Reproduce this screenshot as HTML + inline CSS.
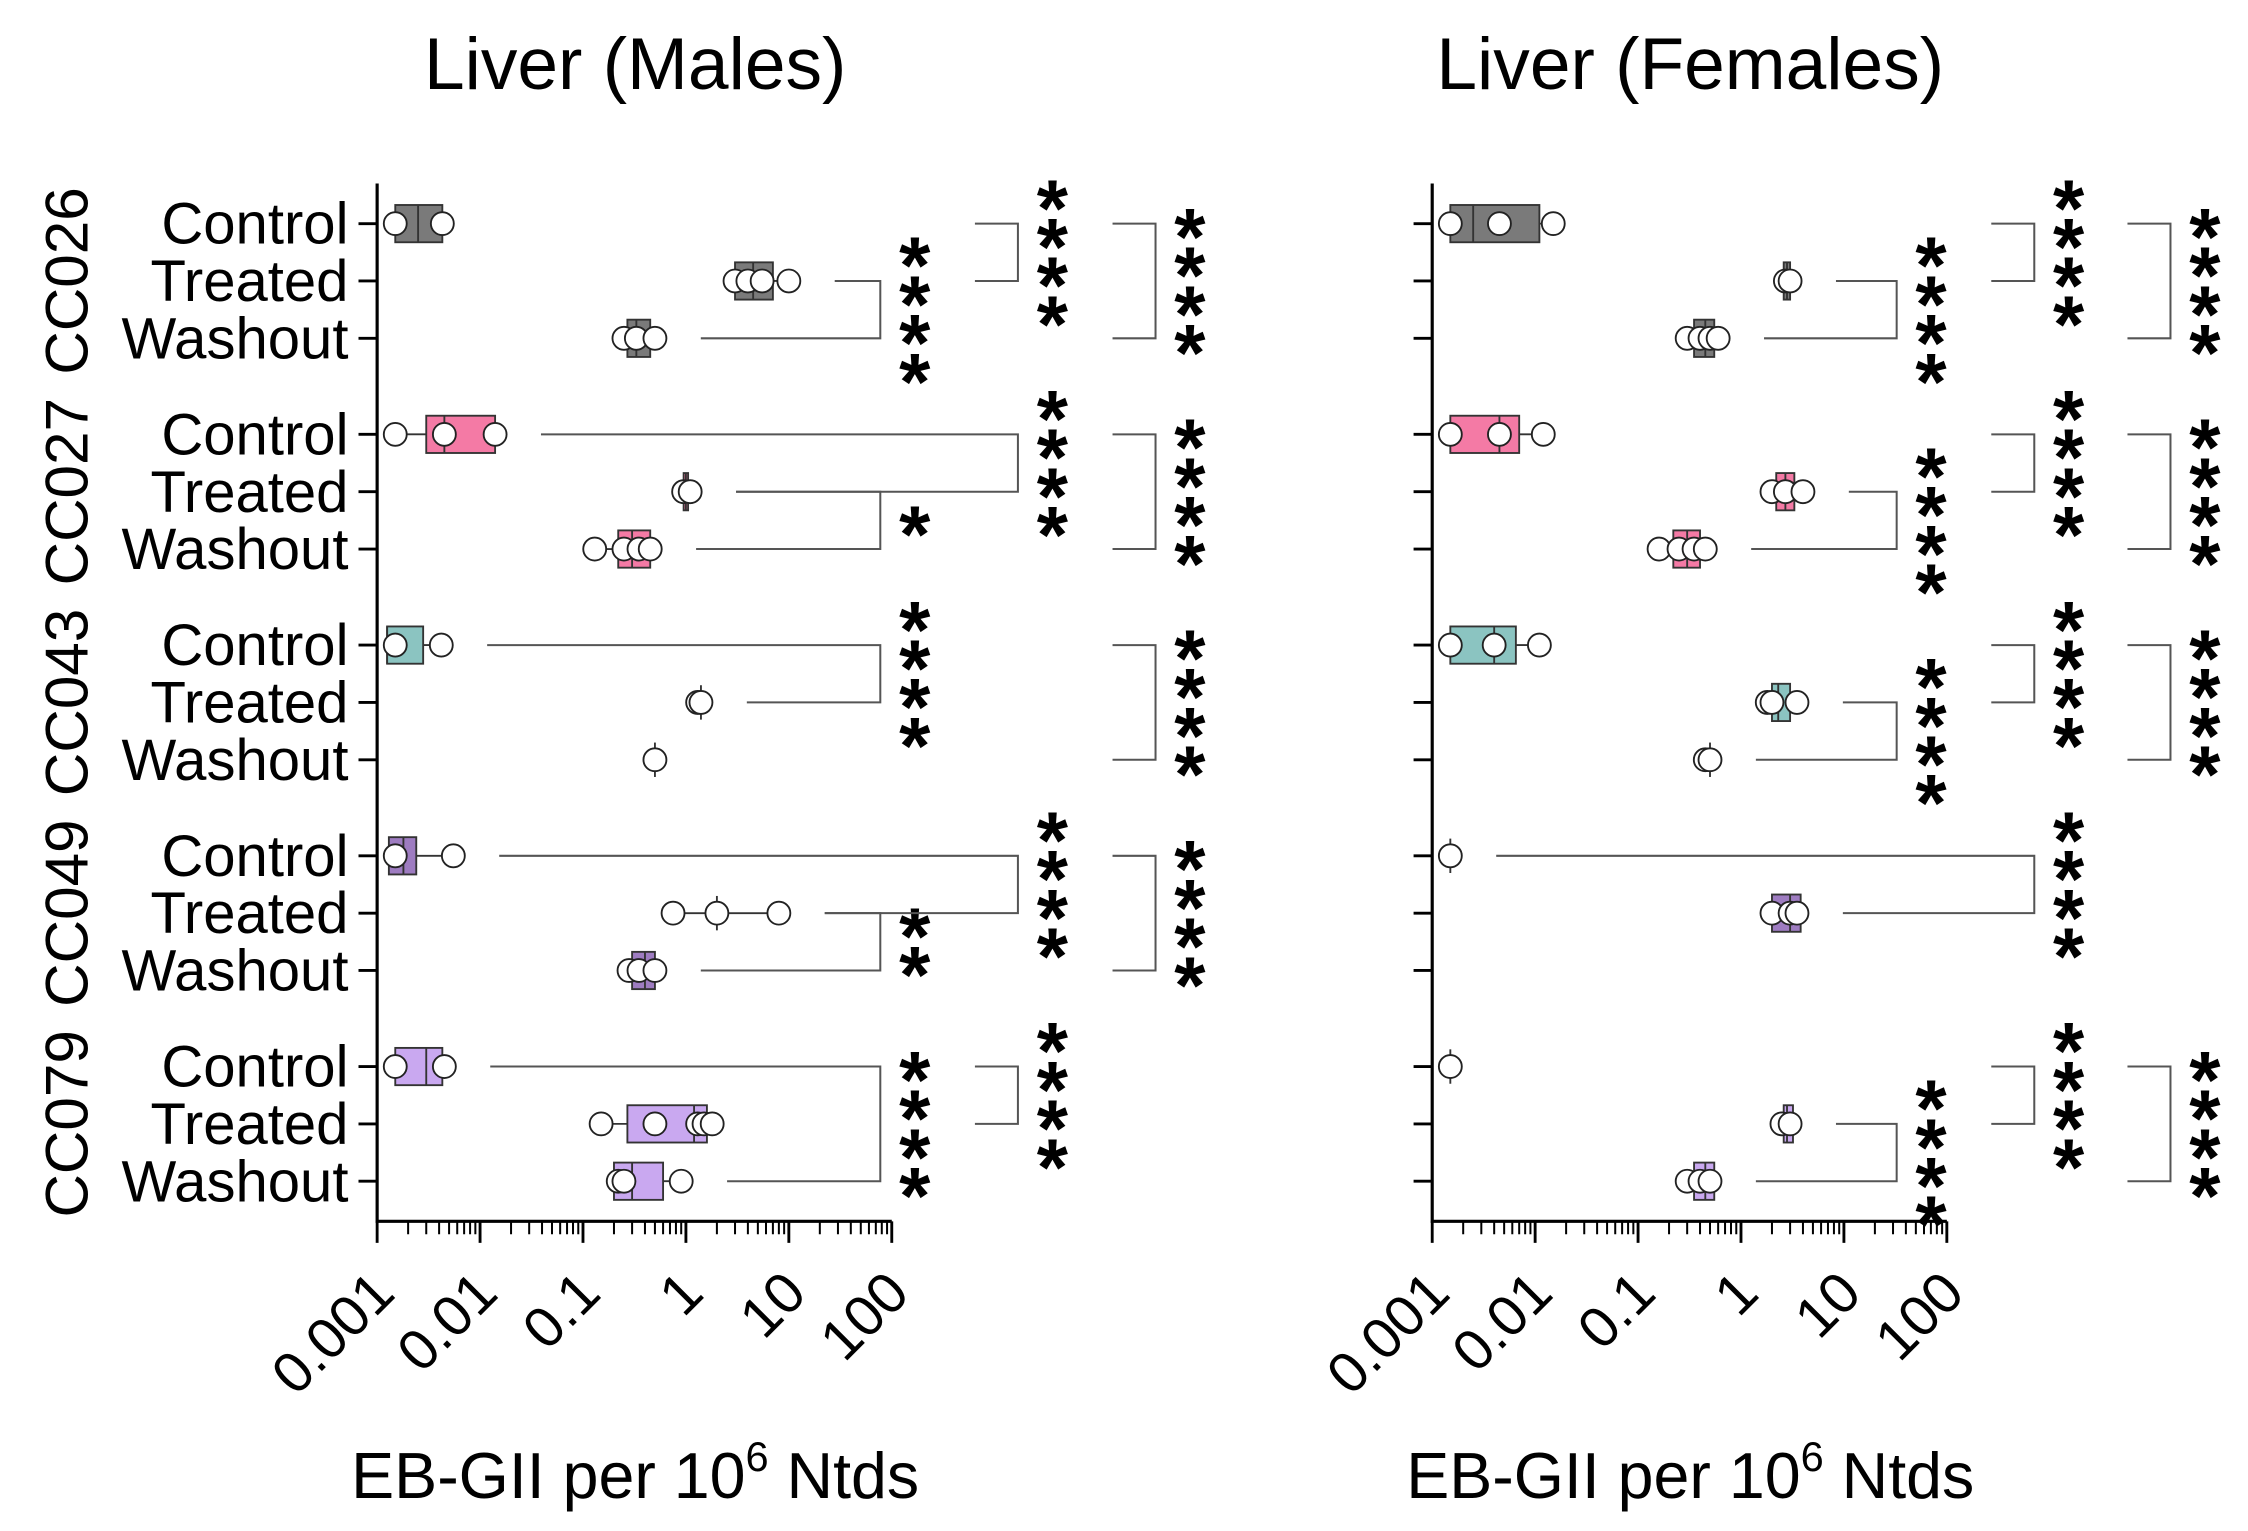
<!DOCTYPE html>
<html><head><meta charset="utf-8"><style>
html,body{margin:0;padding:0;background:#fff;}
svg{display:block;}
text{font-family:"Liberation Sans",Arial,sans-serif;fill:#000;}
</style></head><body>
<svg id="chart" width="2248" height="1531" viewBox="0 0 1568 1068" xmlns="http://www.w3.org/2000/svg"></svg>
<script>
const strains = ["CC026","CC027","CC043","CC049","CC079"];
const groups = ["Control","Treated","Washout"];
const colors = ["#7a7a7a","#f47aa5","#8bc4c1","#9e7cc1","#c9a8f0"];
const tickLabels = ["0.001","0.01","0.1","1","10","100"];
const tickValues = [0.001,0.01,0.1,1,10,100];
const malePoints = [
  [[0.0015,0.0043],[3,4,5.5,10],[0.25,0.33,0.5]],
  [[0.0015,0.0045,0.014],[0.95,1.1],[0.13,0.25,0.35,0.45]],
  [[0.0015,0.0042],[1.3,1.4],[0.5]],
  [[0.0015,0.0055],[0.75,2,8],[0.28,0.35,0.5]],
  [[0.0015,0.0045],[0.15,0.5,1.3,1.5,1.8],[0.22,0.25,0.9]]
];
const maleBoxes = [
  [[0.0015,0.0025,0.0043],[3,4.5,7],[0.27,0.33,0.45]],
  [[0.003,0.0045,0.014],[0.95,1.0,1.05],[0.22,0.3,0.45]],
  [[0.00125,0.00125,0.0028],null,null],
  [[0.0013,0.0018,0.0024],null,[0.3,0.4,0.5]],
  [[0.0015,0.003,0.0043],[0.27,1.2,1.6],[0.2,0.3,0.6]]
];
const femalePoints = [
  [[0.0015,0.0045,0.015],[2.7,3],[0.3,0.4,0.5,0.6]],
  [[0.0015,0.0045,0.012],[2,2.7,4],[0.16,0.25,0.35,0.45]],
  [[0.0015,0.004,0.011],[1.8,2,3.5],[0.45,0.5]],
  [[0.0015],[2,3,3.5],[]],
  [[0.0015],[2.5,3],[0.3,0.4,0.5]]
];
const femaleBoxes = [
  [[0.0015,0.0025,0.011],[2.6,2.8,3],[0.35,0.45,0.55]],
  [[0.0015,0.0045,0.007],[2.2,2.7,3.3],[0.22,0.3,0.4]],
  [[0.0015,0.004,0.0065],[2,2.3,3],null],
  [null,[2,3,3.8],null],
  [null,[2.6,2.8,3.2],[0.35,0.45,0.55]]
];
// [strain, rowA, rowB, nStars, level, armsFromData(1) or short arms(0)]
const maleSig = [
  [0,1,2,4,0,1],[0,0,1,4,1,0],[0,0,2,4,2,0],
  [1,1,2,1,0,1],[1,0,1,4,1,1],[1,0,2,4,2,0],
  [2,0,1,4,0,1],[2,0,2,4,2,0],
  [3,1,2,2,0,1],[3,0,1,4,1,1],[3,0,2,4,2,0],
  [4,0,2,4,0,1],[4,0,1,4,1,0]
];
const femaleSig = [
  [0,1,2,4,0,1],[0,0,1,4,1,0],[0,0,2,4,2,0],
  [1,1,2,4,0,1],[1,0,1,4,1,0],[1,0,2,4,2,0],
  [2,1,2,4,0,1],[2,0,1,4,1,0],[2,0,2,4,2,0],
  [3,0,1,4,1,1],
  [4,1,2,4,0,1],[4,0,1,4,1,0],[4,0,2,4,2,0]
];

const NS="http://www.w3.org/2000/svg";
const svg=document.getElementById('chart');
function el(tag,attrs,parent){const e=document.createElementNS(NS,tag);for(const k in attrs)e.setAttribute(k,attrs[k]);(parent||svg).appendChild(e);return e;}
const rowY=(s,g)=>156+s*147+g*40;
const AXTOP=128, AXBOT=852, DEC=71.8;

function panel(name,x0,title,points,boxes,sig,vx,vxs){
  const g=el('g',{});
  
  
  const X=v=>x0+(Math.log10(v)+3)*DEC;
  const t=el('text',{x:x0+180,y:62,'font-size':51,'text-anchor':'middle'},g);t.textContent=title;
  
  
  const ax=el('path',{d:`M${x0} ${AXTOP}V${AXBOT}H${X(100)}`,stroke:'#000','stroke-width':2.2,fill:'none'},g);
  
  
  tickValues.forEach((v,i)=>{
    el('line',{x1:X(v),x2:X(v),y1:AXBOT,y2:AXBOT+15,stroke:'#000','stroke-width':2},g);
    if(i<tickValues.length-1){for(let m=2;m<10;m++){el('line',{x1:X(v*m),x2:X(v*m),y1:AXBOT,y2:AXBOT+9,stroke:'#000','stroke-width':1.4},g);}}
    const lx=X(v)+14, ly=AXBOT+52;
    const tl=el('text',{x:lx,y:ly,'font-size':40,'text-anchor':'end',transform:`rotate(-45 ${lx} ${ly})`},g);
    tl.textContent=tickLabels[i];
    
    
  });
  const xt=el('text',{x:x0+180,y:1045,'font-size':45,'text-anchor':'middle'},g);
  xt.innerHTML='EB-GII per 10<tspan dy="-19" font-size="29">6</tspan><tspan dy="19"> Ntds</tspan>';
  
  
  strains.forEach((s,si)=>{
    if(vx){
      const st=el('text',{x:0,y:0,'font-size':42,'text-anchor':'middle',transform:`translate(61 ${rowY(si,1)}) rotate(-90)`},g);
      st.textContent=s;
      
      
    }
    groups.forEach((gr,gi)=>{
      const y=rowY(si,gi);
      el('line',{x1:x0-13,x2:x0,y1:y,y2:y,stroke:'#000','stroke-width':2},g);
      if(vx){
        const lt=el('text',{x:x0-20,y:y+14,'font-size':40.5,'text-anchor':'end'},g);lt.textContent=gr;
        
        
      }
      const pts=points[si][gi], b=boxes[si][gi];
      if(pts.length>1){
        const mn=Math.min(...pts), mx=Math.max(...pts);
        const wl=el('line',{x1:X(mn),x2:X(mx),y1:y,y2:y,stroke:'#333','stroke-width':1.3},g);
        
        
      }
      if(b){
        const r=el('rect',{x:X(b[0]),y:y-13,width:Math.max(X(b[2])-X(b[0]),3),height:26,fill:colors[si],stroke:'#333','stroke-width':1.3},g);
        
        
        el('line',{x1:X(b[1]),x2:X(b[1]),y1:y-13,y2:y+13,stroke:'#333','stroke-width':1.3},g);
      } else if(pts.length){
        const m=pts.slice().sort((a,c)=>a-c)[Math.floor(pts.length/2)];
        el('line',{x1:X(m),x2:X(m),y1:y-12,y2:y+12,stroke:'#333','stroke-width':1.3},g);
      }
      pts.forEach(p=>{
        const c=el('circle',{cx:X(p),cy:y,r:8,fill:'#fff',stroke:'#222','stroke-width':1.3},g);
        
        
      });
    });
  });
  sig.forEach(([si,a,bb,n,lvl,fromData])=>{
    const ya=rowY(si,a), yb=rowY(si,bb), xv=vxs[lvl];
    const pa=points[si][a], pb=points[si][bb];
    let sa=xv-30, sb=xv-30;
    if(fromData){
      sa=Math.min(X(Math.max(...pa))+32,xv-30);
      sb=Math.min(X(Math.max(...pb))+32,xv-30);
    }
    const br=el('path',{d:`M${sa} ${ya}H${xv}V${yb}H${sb}`,stroke:'#555','stroke-width':1.4,fill:'none'},g);
    
    
    const cy=(ya+yb)/2, sp=27;
    for(let k=0;k<n;k++){
      const yy=cy+(k-(n-1)/2)*sp;
      const st=el('text',{x:xv+24,y:yy+29,'font-size':56,'font-weight':'bold','text-anchor':'middle'},g);
      st.textContent='*';
      
      
    }
  });
}
panel('males',263,'Liver (Males)',malePoints,maleBoxes,maleSig,true,[614,710,806]);
panel('females',999,'Liver (Females)',femalePoints,femaleBoxes,femaleSig,false,[1323,1419,1514]);
</script>
</body></html>
